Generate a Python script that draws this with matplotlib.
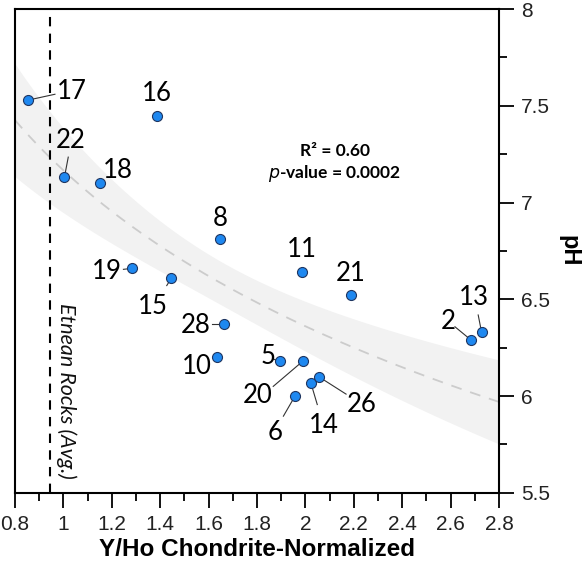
import numpy as np
import matplotlib
matplotlib.use("Agg")
import matplotlib.pyplot as plt
from matplotlib.ticker import MultipleLocator, FuncFormatter

# sample ids, Y/Ho (chondrite-normalized) and pH
ids = ["17", "16", "22", "18", "8", "19", "15", "28", "10", "5",
       "20", "6", "14", "26", "11", "21", "2", "13"]
yho = [0.855, 1.385, 1.004, 1.151, 1.648, 1.283, 1.446, 1.664, 1.635, 1.895,
       1.989, 1.957, 2.022, 2.055, 1.985, 2.188, 2.684, 2.728]
ph = [7.53, 7.45, 7.13, 7.10, 6.81, 6.66, 6.61, 6.37, 6.20, 6.18,
      6.18, 6.00, 6.07, 6.10, 6.64, 6.52, 6.29, 6.33]
# label positions (data coords)
lab_x = [1.034, 1.385, 1.03, 1.224, 1.65, 1.179, 1.369, 1.545, 1.551, 1.847,
         1.803, 1.876, 2.074, 2.233, 1.985, 2.188, 2.588, 2.697]
lab_y = [7.573, 7.565, 7.32, 7.165, 6.92, 6.644, 6.462, 6.367, 6.153, 6.205,
         6.005, 5.814, 5.848, 5.958, 6.757, 6.635, 6.387, 6.509]
# leader line end points (None = no line)
lead_x = [0.965, None, 1.02, None, None, 1.248, 1.427, 1.613, None, 1.87,
          1.867, 1.909, 2.049, 2.168, None, None, 2.618, 2.714]
lead_y = [7.56, None, 7.235, None, None, 6.655, 6.571, 6.37, None, 6.19,
          6.05, 5.896, 5.956, 6.01, None, None, 6.358, 6.419]

etna_avg = 0.945
r2_text = "R\u00b2 = 0.60"
p_text = "$\\bf{\\it{p}}$-value = 0.0002"

x = np.array(yho)
y = np.array(ph)

# logarithmic fit with confidence band
lx = np.log(x)
b, a = np.polyfit(lx, y, 1)
n = len(x)
resid = y - (a + b * lx)
s = np.sqrt(np.sum(resid ** 2) / (n - 2))
sxx = np.sum((lx - lx.mean()) ** 2)
t = 1.55
xf = np.linspace(0.8, 2.8, 200)
lf = np.log(xf)
yf = a + b * lf
half = t * s * np.sqrt(1 / n + (lf - lx.mean()) ** 2 / sxx)

fig = plt.figure(figsize=(5.82, 5.71), dpi=100)
ax = fig.add_axes([0.0258, 0.137, 0.8316, 0.847])

ax.fill_between(xf, yf - half, yf + half, color="#f2f2f2", lw=0, zorder=1)
ax.plot(xf, yf, color="#cccccc", lw=1.3, ls=(0, (6, 5)), zorder=2)
ax.axvline(etna_avg, color="black", lw=1.5, ls=(0, (4.5, 3.5)), zorder=2)

for i in range(n):
    if lead_x[i] is not None:
        ax.plot([x[i], lead_x[i]], [y[i], lead_y[i]], color="#333333", lw=0.8, zorder=3)
ax.scatter(x, y, s=52, color="#1e88f0", edgecolor="#1f3560", linewidth=0.8, zorder=4)

for i in range(n):
    ax.text(lab_x[i], lab_y[i], ids[i], fontsize=18.5, family="Lato",
            ha="center", va="center", zorder=5)

ax.text(2.122, 7.269, r2_text, fontsize=12.5, family="Lato", fontweight="bold",
        ha="center", va="center")
ax.text(2.122, 7.149, p_text, fontsize=12.5, family="Lato", fontweight="bold",
        ha="center", va="center")
ax.text(1.01, 6.025, "Etnean Rocks (Avg.)", fontsize=15.5, family="Lato",
        style="italic", rotation=270, ha="center", va="center", color="#111111")

ax.set_xlim(0.8, 2.8)
ax.set_ylim(5.5, 8)
ax.xaxis.set_major_locator(MultipleLocator(0.2))
ax.xaxis.set_minor_locator(MultipleLocator(0.1))
ax.yaxis.set_major_locator(MultipleLocator(0.5))
ax.yaxis.set_minor_locator(MultipleLocator(0.25))
fmt = FuncFormatter(lambda v, pos: "%g" % round(v, 2))
ax.xaxis.set_major_formatter(fmt)
ax.yaxis.set_major_formatter(fmt)
ax.yaxis.tick_right()
ax.yaxis.set_label_position("right")
ax.tick_params(axis="both", which="major", direction="out", length=11, width=1.3,
               labelsize=15, pad=5)
ax.tick_params(axis="both", which="minor", direction="out", length=6, width=1.3)
for lab in ax.get_xticklabels() + ax.get_yticklabels():
    lab.set_family("Liberation Sans")
    lab.set_color("#222222")
for sp in ax.spines.values():
    sp.set_linewidth(1.5)

ax.set_xlabel("Y/Ho Chondrite-Normalized", fontsize=17.5, fontweight="bold",
              family="Liberation Sans", labelpad=3)
ax.set_ylabel("pH", fontsize=17, fontweight="bold", family="Liberation Sans",
              rotation=270, labelpad=22)

fig.savefig("out.png", dpi=100)
